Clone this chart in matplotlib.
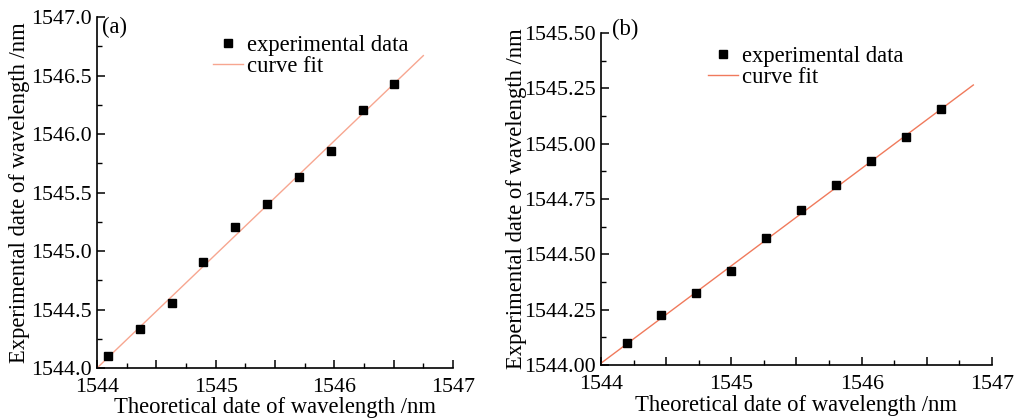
import matplotlib

matplotlib.use("Agg")
import matplotlib.pyplot as plt
from matplotlib.ticker import FixedLocator, FuncFormatter, MultipleLocator

plt.rcParams["font.family"] = ["Liberation Serif", "DejaVu Serif"]

# panel (a)
theo_a = [1544.095, 1544.362, 1544.629, 1544.896, 1545.165,
          1545.435, 1545.700, 1545.970, 1546.238, 1546.505]
exp_a = [1544.105, 1544.330, 1544.558, 1544.903, 1545.202,
         1545.399, 1545.632, 1545.857, 1546.205, 1546.425]
fit_a_x = [1544.0, 1546.75]
fit_a_y = [1544.0, 1546.67]

# panel (b)
theo_b = [1544.197, 1544.460, 1544.729, 1544.998, 1545.266,
          1545.535, 1545.803, 1546.070, 1546.340, 1546.610]
exp_b = [1544.101, 1544.225, 1544.324, 1544.425, 1544.574,
         1544.699, 1544.813, 1544.923, 1545.032, 1545.158]
fit_b_x = [1544.0, 1546.857]
fit_b_y = [1544.008, 1545.265]

XLABEL = "Theoretical date of wavelength /nm"
YLABEL = "Experimental date of wavelength /nm"
FS = 16.3
TFS = 15.8


def style_axes(ax, ylim, ymajor, yminor, yfmt, xlab_y):
    ax.set_xlim(1544, 1547)
    ax.set_ylim(*ylim)
    for side in ("top", "right"):
        ax.spines[side].set_visible(False)
    for side in ("left", "bottom"):
        ax.spines[side].set_linewidth(1.2)
    ax.xaxis.set_major_locator(MultipleLocator(0.5))
    ax.xaxis.set_minor_locator(FixedLocator([1544.25, 1544.75, 1545.25, 1545.75, 1546.25, 1546.75]))
    ax.xaxis.set_major_formatter(FuncFormatter(lambda v, p: f"{v:.0f}" if abs(v - round(v)) < 1e-6 else ""))
    ax.yaxis.set_major_locator(MultipleLocator(ymajor))
    ax.yaxis.set_minor_locator(MultipleLocator(yminor))
    ax.yaxis.set_major_formatter(FuncFormatter(lambda v, p: yfmt.format(v)))
    ax.tick_params(which="major", direction="in", length=6, width=1.1, labelsize=TFS)
    ax.tick_params(which="minor", direction="in", length=3.5, width=1.0)
    ax.tick_params(axis="x", which="major", pad=7)
    ax.tick_params(axis="y", which="major", pad=4)
    ax.set_xlabel(XLABEL, fontsize=FS)
    ax.set_ylabel(YLABEL, fontsize=FS)
    ax.xaxis.set_label_coords(0.5, xlab_y)
    ax.yaxis.set_label_coords(-0.188, 0.5)


def add_legend(ax, x0, y0):
    h, l = ax.get_legend_handles_labels()
    ax.legend(h[::-1], l[::-1], loc="upper left", bbox_to_anchor=(x0, y0),
              frameon=False, fontsize=FS, handlelength=1.3, handletextpad=0.2,
              labelspacing=0.0, borderpad=0, borderaxespad=0)


fig = plt.figure(figsize=(10.15, 4.19), dpi=100)

ax1 = fig.add_axes([0.0956, 0.1217, 0.3507, 0.8377])
ax1.plot(fit_a_x, fit_a_y, color="#f7a690", lw=1.0, label="curve fit")
ax1.plot(theo_a, exp_a, ls="none", marker="s", ms=5.5, color="black",
         label="experimental data")
style_axes(ax1, (1544.0, 1547.0), 0.5, 0.25, "{:.1f}", -0.083)
add_legend(ax1, 0.326, 0.95)
ax1.text(0.015, 0.969, "(a)", transform=ax1.transAxes, fontsize=FS, va="center", ha="left")

ax2 = fig.add_axes([0.5921, 0.1289, 0.3852, 0.7924])
ax2.plot(fit_b_x, fit_b_y, color="#f07a5c", lw=1.0, label="curve fit")
ax2.plot(theo_b, exp_b, ls="none", marker="s", ms=5.5, color="black",
         label="experimental data")
style_axes(ax2, (1544.0, 1545.5), 0.25, 0.125, "{:.2f}", -0.090)
add_legend(ax2, 0.274, 0.96)
ax2.text(0.028, 1.012, "(b)", transform=ax2.transAxes, fontsize=FS, va="center", ha="left")

fig.savefig("out.png", dpi=100)
